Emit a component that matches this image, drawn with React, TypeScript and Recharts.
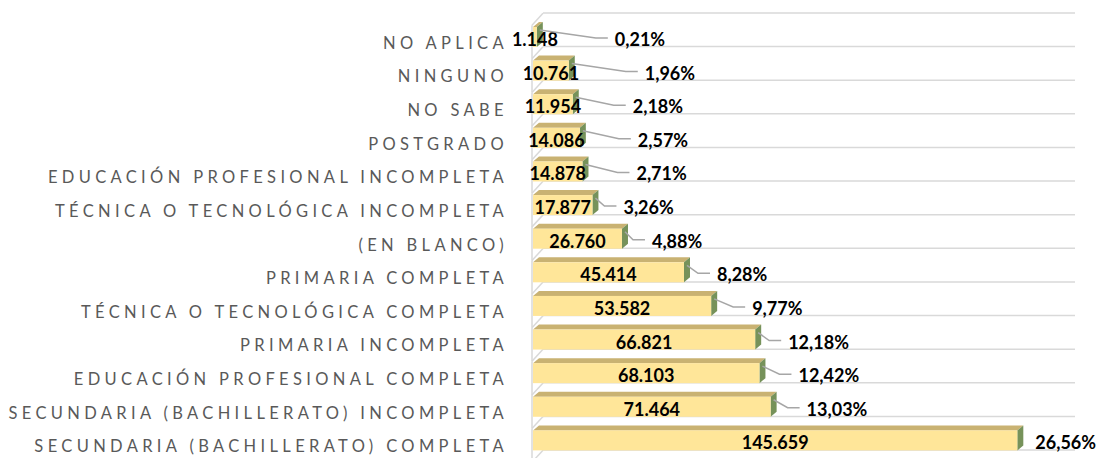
import React from 'react';
import { BarChart, Bar, XAxis, YAxis, CartesianGrid, LabelList } from 'recharts';

const CATEGORIES = [
  'NO APLICA',
  'NINGUNO',
  'NO SABE',
  'POSTGRADO',
  'EDUCACIÓN PROFESIONAL INCOMPLETA',
  'TÉCNICA O TECNOLÓGICA INCOMPLETA',
  '(EN BLANCO)',
  'PRIMARIA COMPLETA',
  'TÉCNICA O TECNOLÓGICA COMPLETA',
  'PRIMARIA INCOMPLETA',
  'EDUCACIÓN PROFESIONAL COMPLETA',
  'SECUNDARIA (BACHILLERATO) INCOMPLETA',
  'SECUNDARIA (BACHILLERATO) COMPLETA',
];
const COUNTS = [1148, 10761, 11954, 14086, 14878, 17877, 26760, 45414, 53582, 66821, 68103, 71464, 145659];
const PERCENTS = [0.21, 1.96, 2.18, 2.57, 2.71, 3.26, 4.88, 8.28, 9.77, 12.18, 12.42, 13.03, 26.56];

// distance (px) from the bar end to each percentage label, as placed in the original
const LEADER_GAP = [78, 76, 60, 58, 54, 31, 30, 33, 41, 33, 39, 36, 18];

const data = CATEGORIES.map((name, i) => ({ name, count: COUNTS[i], pct: PERCENTS[i] }));

const FRONT = '#FFE699';
const TOP = '#C9B272';
const SIDE = '#76925A';
const GRID = '#D9D9D9';
const FONT = 'Lato, "Open Sans", sans-serif';

const BAR_SIZE = 20;
const SHIFT_X = -10; // front plane vs back wall
const SHIFT_Y = 7;
const DEPTH_X = 6;
const DEPTH_Y = -5;

const fmtCount = (v: number) => String(v).replace(/\B(?=(\d{3})+(?!\d))/g, '.');
const fmtPct = (v: number) => v.toFixed(2).replace('.', ',') + '%';

const Bar3D = (props: any) => {
  const { x, y, width, index } = props;
  const band = BAR_SIZE + 13.6;
  const bandTop = y - (band - BAR_SIZE) / 2;
  const bandBottom = bandTop + band;
  const fx = x + SHIFT_X;
  const fy = y + SHIFT_Y;
  const w = Math.max(width, 0);
  const h = BAR_SIZE;
  return (
    <g>
      {/* wall edge and floor diagonals */}
      {index === 0 && (
        <line x1={x} y1={bandTop} x2={x - 11} y2={bandTop + 12} stroke={GRID} strokeWidth={1.5} />
      )}
      <line x1={x} y1={bandBottom} x2={x - 11} y2={bandBottom + 12} stroke={GRID} strokeWidth={1.5} />
      <line x1={x - 11} y1={bandTop + 12} x2={x - 11} y2={bandBottom + 12} stroke={GRID} strokeWidth={1.5} />
      {/* top face */}
      <polygon
        points={`${fx},${fy} ${fx + w},${fy} ${fx + w + DEPTH_X},${fy + DEPTH_Y} ${fx + DEPTH_X},${fy + DEPTH_Y}`}
        fill={TOP}
      />
      {/* right face */}
      <polygon
        points={`${fx + w},${fy} ${fx + w + DEPTH_X},${fy + DEPTH_Y} ${fx + w + DEPTH_X},${fy + h + DEPTH_Y} ${fx + w},${fy + h}`}
        fill={SIDE}
      />
      <rect x={fx} y={fy} width={w} height={h} fill={FRONT} />
    </g>
  );
};

const CountLabel = (props: any) => {
  const { x, y, width, value } = props;
  return (
    <text
      x={x + SHIFT_X + width / 2}
      y={y + SHIFT_Y + 12}
      textAnchor="middle"
      dominantBaseline="central"
      fontFamily={FONT}
      fontWeight={700}
      fontSize={18}
      fill="#000"
    >
      {fmtCount(value)}
    </text>
  );
};

const PctLabel = (props: any) => {
  const { x, y, width, value, index } = props;
  const endX = x + SHIFT_X + width;
  const frontTop = y + SHIFT_Y;
  const lx = endX + LEADER_GAP[index];
  const ly = frontTop + 12;
  const sx = endX + 3;
  const sy = frontTop + 3;
  const ex = lx - 7;
  const elbowX = Math.max(sx + 3, lx - 19);
  return (
    <g>
      {LEADER_GAP[index] >= 20 && (
        <polyline
          points={`${sx},${sy} ${elbowX},${ly - 1} ${ex},${ly - 1}`}
          fill="none"
          stroke="#A6A6A6"
          strokeWidth={1.5}
        />
      )}
      <text
        x={lx}
        y={ly}
        dominantBaseline="central"
        fontFamily={FONT}
        fontWeight={700}
        fontSize={18}
        fill="#000"
      >
        {fmtPct(value)}
      </text>
    </g>
  );
};

const CategoryTick = (props: any) => {
  const { x, y, payload } = props;
  return (
    <text
      x={x - 35}
      y={y + 13}
      textAnchor="end"
      dominantBaseline="central"
      fontFamily={FONT}
      fontSize={16.5}
      letterSpacing={4.35}
      fill="#595959"
    >
      {payload.value}
    </text>
  );
};

export default function App() {
  return (
    <div style={{ position: 'absolute', left: 0, top: 0, background: '#fff' }}>
      <BarChart
        width={1101}
        height={458}
        data={data}
        layout="vertical"
        margin={{ top: 13, right: 26, bottom: 8, left: 0 }}
        barSize={BAR_SIZE}
      >
        <CartesianGrid
          vertical={false}
          stroke={GRID}
          strokeWidth={1.5}
          horizontalCoordinatesGenerator={({ offset }: any) =>
            CATEGORIES.map((_, i) => offset.top + (i * offset.height) / CATEGORIES.length).concat([
              offset.top + offset.height,
            ])
          }
        />
        <XAxis type="number" hide domain={[0, 160000]} />
        <YAxis
          type="category"
          dataKey="name"
          width={543}
          axisLine={false}
          tickLine={false}
          tickSize={0}
          tickMargin={0}
          interval={0}
          tick={<CategoryTick />}
        />
        <Bar dataKey="count" shape={<Bar3D />} isAnimationActive={false}>
          <LabelList dataKey="count" content={<CountLabel />} />
          <LabelList dataKey="pct" content={<PctLabel />} />
        </Bar>
      </BarChart>
    </div>
  );
}
